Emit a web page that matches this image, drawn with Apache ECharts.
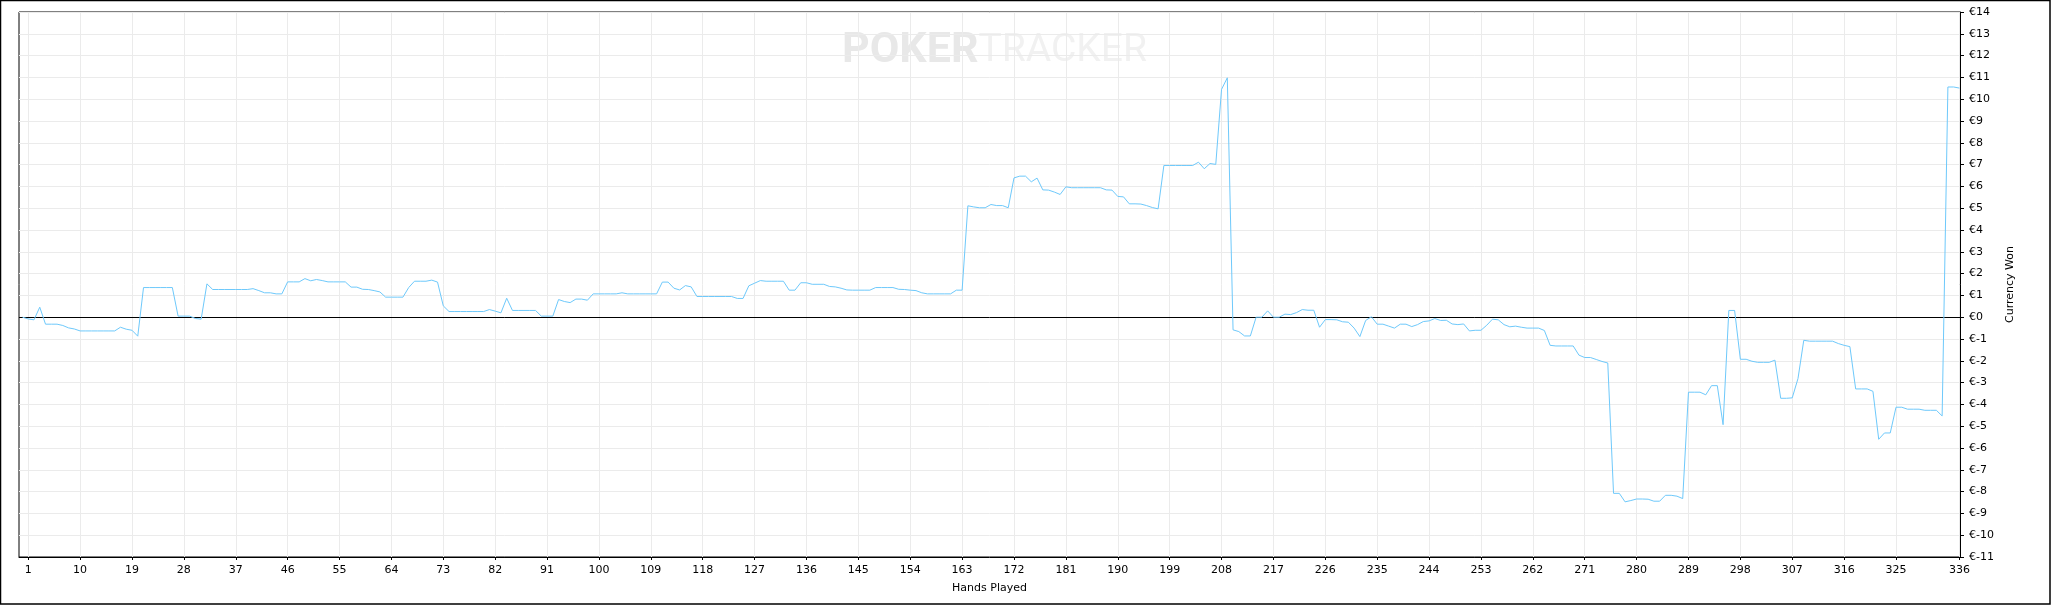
<!DOCTYPE html>
<html>
<head>
<meta charset="utf-8">
<script src="https://cdn.jsdelivr.net/npm/echarts@6/dist/echarts.min.js"></script>
<style>
html,body{margin:0;padding:0;background:#fff;}
#chart{width:2051px;height:605px;}
</style>
</head>
<body>
<div id="chart"></div>
<script>
// Cumulative currency won after each hand (index = hand number, 0..336)
const currencyWon = [
  0, -0.08, -0.12, 0.46, -0.32, -0.32, -0.32, -0.38, -0.49, -0.54,
  -0.63, -0.63, -0.63, -0.63, -0.63, -0.63, -0.63, -0.46, -0.55, -0.60,
  -0.87, 1.36, 1.36, 1.36, 1.36, 1.36, 1.36, 0.05, 0.05, 0.05,
  -0.06, -0.09, 1.53, 1.27, 1.27, 1.27, 1.27, 1.27, 1.27, 1.27,
  1.31, 1.22, 1.12, 1.12, 1.07, 1.07, 1.62, 1.62, 1.62, 1.77,
  1.67, 1.73, 1.68, 1.62, 1.62, 1.62, 1.62, 1.38, 1.38, 1.28,
  1.27, 1.22, 1.16, 0.92, 0.92, 0.92, 0.92, 1.36, 1.65, 1.65,
  1.65, 1.70, 1.61, 0.52, 0.26, 0.26, 0.26, 0.26, 0.26, 0.26,
  0.26, 0.35, 0.28, 0.20, 0.87, 0.31, 0.31, 0.31, 0.31, 0.31,
  0.05, 0.05, 0.05, 0.81, 0.72, 0.67, 0.83, 0.83, 0.78, 1.07,
  1.07, 1.07, 1.07, 1.07, 1.12, 1.07, 1.07, 1.07, 1.07, 1.07,
  1.07, 1.61, 1.61, 1.33, 1.25, 1.45, 1.39, 0.95, 0.95, 0.95,
  0.95, 0.95, 0.95, 0.95, 0.86, 0.86, 1.44, 1.56, 1.68, 1.65,
  1.65, 1.65, 1.65, 1.24, 1.24, 1.58, 1.58, 1.51, 1.51, 1.51,
  1.41, 1.39, 1.33, 1.25, 1.24, 1.24, 1.24, 1.24, 1.36, 1.36,
  1.36, 1.36, 1.28, 1.27, 1.24, 1.22, 1.12, 1.07, 1.07, 1.07,
  1.07, 1.07, 1.24, 1.24, 5.11, 5.06, 5.02, 5.02, 5.17, 5.12,
  5.12, 5.02, 6.39, 6.47, 6.47, 6.21, 6.38, 5.84, 5.83, 5.74,
  5.63, 5.98, 5.94, 5.94, 5.94, 5.94, 5.94, 5.94, 5.84, 5.83,
  5.54, 5.52, 5.20, 5.20, 5.19, 5.12, 5.03, 4.97, 6.96, 6.96,
  6.96, 6.96, 6.96, 6.96, 7.11, 6.81, 7.05, 7.01, 10.45, 10.98,
  -0.58, -0.66, -0.86, -0.86, 0, 0, 0.29, 0, 0, 0.14,
  0.12, 0.21, 0.35, 0.32, 0.32, -0.46, -0.11, -0.11, -0.12, -0.21,
  -0.23, -0.50, -0.89, -0.15, 0.02, -0.32, -0.32, -0.41, -0.50, -0.32,
  -0.32, -0.43, -0.34, -0.20, -0.17, -0.06, -0.15, -0.14, -0.31, -0.34,
  -0.31, -0.63, -0.60, -0.60, -0.37, -0.09, -0.12, -0.34, -0.44, -0.41,
  -0.46, -0.50, -0.50, -0.50, -0.61, -1.29, -1.32, -1.32, -1.32, -1.32,
  -1.74, -1.85, -1.85, -1.94, -2.03, -2.10, -8.08, -8.08, -8.47, -8.41,
  -8.34, -8.34, -8.35, -8.44, -8.44, -8.17, -8.17, -8.21, -8.32, -3.44,
  -3.44, -3.44, -3.56, -3.14, -3.14, -4.93, 0.31, 0.31, -1.93, -1.93,
  -2.02, -2.07, -2.07, -2.07, -1.97, -3.72, -3.72, -3.70, -2.81, -1.06,
  -1.10, -1.10, -1.10, -1.10, -1.10, -1.21, -1.29, -1.35, -3.29, -3.29,
  -3.29, -3.40, -5.60, -5.31, -5.31, -4.13, -4.13, -4.22, -4.22, -4.22,
  -4.27, -4.27, -4.27, -4.53, 10.56, 10.56, 10.51
];

// X axis tick labels (hands)
const handTicks = [1, 10, 19, 28, 37, 46, 55, 64, 73, 82, 91, 100, 109, 118, 127, 136, 145, 154,
  163, 172, 181, 190, 199, 208, 217, 226, 235, 244, 253, 262, 271, 280, 289, 298, 307, 316, 325, 336];

const xTitle = 'Hands Played';
const yTitle = 'Currency Won';

const seriesData = currencyWon.map((v, i) => [i, v]);

const FONT = 'DejaVu Sans';
const chart = echarts.init(document.getElementById('chart'), null, {renderer: 'canvas'});
chart.setOption({
  animation: false,
  backgroundColor: '#ffffff',
  grid: {
    left: 19, right: 91, top: 12, bottom: 48,
    show: true, borderColor: '#000', borderWidth: 1, backgroundColor: 'transparent'
  },
  graphic: [
    {
      type: 'rect', z: 100, silent: true,
      shape: {x: 0.5, y: 0.5, width: 2049.5, height: 603.5},
      style: {fill: 'none', stroke: '#000', lineWidth: 1.5}
    },
    {
      type: 'text', z: 0, silent: true, left: 842, top: 30,
      style: {
        text: '{a|POKER}{b|TRACKER}',
        rich: {
          a: {fontFamily: 'Roboto', fontWeight: 'bold', fontSize: 43, fill: '#e8e8e8'},
          b: {fontFamily: 'Roboto', fontWeight: 'normal', fontSize: 39, fill: '#f1f1f1'}
        }
      }
    }
  ],
  xAxis: {
    type: 'value',
    min: -0.6, max: 336.1,
    name: xTitle,
    nameLocation: 'middle',
    nameGap: 26,
    nameTextStyle: {fontFamily: FONT, fontSize: 11, color: '#000'},
    axisLine: {show: true, onZero: false, lineStyle: {color: '#000', width: 1}},
    axisTick: {show: true, length: 3, customValues: handTicks, lineStyle: {color: '#000'}},
    axisLabel: {customValues: handTicks, fontFamily: FONT, fontSize: 11, color: '#000', margin: 8},
    splitLine: {show: false}
  },
  yAxis: {
    type: 'value',
    position: 'right',
    min: -11, max: 14, interval: 1,
    name: yTitle,
    nameLocation: 'middle',
    nameGap: 42,
    nameTextStyle: {fontFamily: FONT, fontSize: 11, color: '#000'},
    axisLine: {show: true, onZero: false, lineStyle: {color: '#000', width: 1}},
    axisTick: {show: true, length: 4, inside: false, lineStyle: {color: '#000'}},
    axisLabel: {fontFamily: FONT, fontSize: 11, color: '#000', margin: 9,
      formatter: v => '€' + v},
    splitLine: {show: true, lineStyle: {color: '#ebebeb', width: 1}}
  },
  series: [
    {
      // vertical grid lines at the hand ticks
      type: 'line',
      data: [],
      silent: true,
      z: 1,
      markLine: {
        silent: true,
        symbol: 'none',
        label: {show: false},
        lineStyle: {color: '#ebebeb', type: 'solid', width: 1},
        data: handTicks.map(h => ({xAxis: h})),
        z: 1
      }
    },
    {
      type: 'line',
      data: seriesData,
      showSymbol: false,
      symbol: 'none',
      lineStyle: {color: '#6ec9fb', width: 1},
      itemStyle: {color: '#6ec9fb'},
      z: 3,
      markLine: {
        silent: true,
        symbol: 'none',
        label: {show: false},
        lineStyle: {color: '#000', type: 'solid', width: 1},
        data: [{yAxis: 0}],
        z: 2
      }
    }
  ]
});
</script>
</body>
</html>
